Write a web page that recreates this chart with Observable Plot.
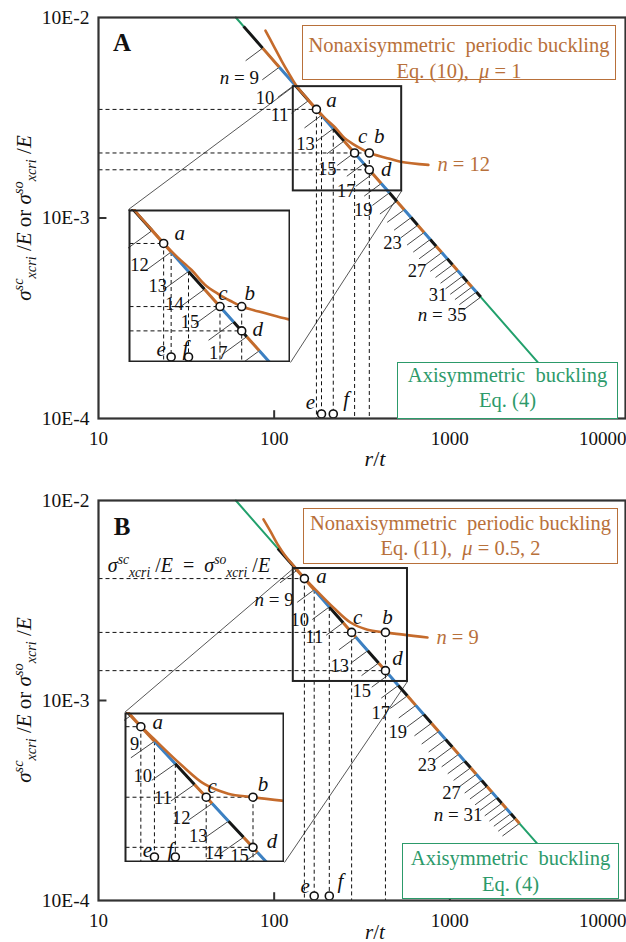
<!DOCTYPE html>
<html><head><meta charset="utf-8">
<script src="https://cdn.jsdelivr.net/npm/d3@7"></script>
<script src="https://cdn.jsdelivr.net/npm/@observablehq/plot@0.6"></script>
<style>
body{margin:0;background:#fff;font-family:"Liberation Serif","Times New Roman",serif;color:#111;}
#root{position:relative;width:626px;height:942px;overflow:hidden;}
.panel{position:relative;width:626px;height:471px;}
.ctr{position:absolute;transform:translate(-50%,-50%);white-space:nowrap;}
.box{position:absolute;box-sizing:border-box;text-align:center;font-size:20.5px;background:#fff;white-space:nowrap;}
.ytitle{position:absolute;transform:translate(-50%,-50%) rotate(-90deg);white-space:nowrap;font-size:21px;}
sup,sub{font-size:68%;line-height:0;}
.inset{position:absolute;overflow:hidden;background:#fff;}
svg text{font-family:"Liberation Serif","Times New Roman",serif !important;}
</style></head><body><div id="root"></div>
<script>
// ---------- data ----------
const K = 0.605;                       // axisymmetric line: sigma/E = K * t/r (Eq. 4)
const xTicks = [10, 100, 1000, 10000];
const xTickLabels = ["10", "100", "1000", "10000"];
const yTicks = [1e-2, 1e-3, 1e-4];
const yTickLabels = ["10E-2", "10E-3", "10E-4"];
const innerTicksX = [100, 1000];
const innerTicksY = [1e-3];

// Panel A
const axisLineA = [{x: 60.5, y: 1.0e-2}, {x: 3200, y: 1.89e-4}];
const boundariesA = [67, 86, 107, 131, 157, 186, 217, 250, 286, 324, 364, 407, 453, 500, 550, 602, 657, 714, 774, 836, 900, 967, 1036, 1107, 1181, 1257, 1336, 1416, 1500];
const firstModeA = 8;
const orangeA = [
  {x: 89.2, y: 8.61e-3}, {x: 99.1, y: 7.24e-3}, {x: 110, y: 6.10e-3}, {x: 120.5, y: 5.31e-3},
  {x: 133.9, y: 4.56e-3}, {x: 150.7, y: 4.03e-3}, {x: 174, y: 3.49e-3}, {x: 196, y: 3.13e-3},
  {x: 223, y: 2.82e-3}, {x: 251, y: 2.51e-3}, {x: 283, y: 2.33e-3}, {x: 314, y: 2.21e-3},
  {x: 348, y: 2.11e-3}, {x: 430, y: 2.0e-3}, {x: 524, y: 1.91e-3}, {x: 755, y: 1.84e-3}];
const pointsA = [{id: "a", x: 174, y: 3.48e-3}, {id: "b", x: 348, y: 2.11e-3}, {id: "c", x: 287, y: 2.11e-3}, {id: "d", x: 348, y: 1.74e-3}];
const efA = [{id: "e", x: 186}, {id: "f", x: 217}];
const mainLabelsA = [9, 10, 11, 13, 15, 17, 19, 23, 27, 31, 35];
const prefixedA = [9, 35];
const insetLabelsA = [12, 13, 14, 15, 17];
const zoomA = {x1: 128.5, x2: 532, y1: 1.365e-3, y2: 4.52e-3};
const orangeLabelA = "n = 12";

// Panel B
const axisLineB = [{x: 60.5, y: 1.0e-2}, {x: 3200, y: 1.89e-4}];
const boundariesB = [105, 135, 169, 206, 247, 292, 341, 393, 449, 509, 573, 640, 711, 786, 864, 947, 1033, 1123, 1216, 1313, 1414, 1519, 1627, 1740, 1856, 1975, 2099, 2226, 2357, 2491];
const firstModeB = 8;
const orangeB = [
  {x: 86.9, y: 8.04e-3}, {x: 95.3, y: 7.0e-3}, {x: 104.4, y: 6.05e-3}, {x: 115.9, y: 5.28e-3},
  {x: 127, y: 4.80e-3}, {x: 148.6, y: 4.09e-3}, {x: 167.5, y: 3.67e-3}, {x: 217, y: 2.92e-3},
  {x: 272, y: 2.455e-3}, {x: 340, y: 2.26e-3}, {x: 430, y: 2.19e-3}, {x: 746, y: 2.065e-3}];
const pointsB = [{id: "a", x: 148.6, y: 4.07e-3}, {id: "b", x: 430, y: 2.19e-3}, {id: "c", x: 276, y: 2.19e-3}, {id: "d", x: 430, y: 1.41e-3}];
const efB = [{id: "e", x: 169}, {id: "f", x: 206}];
const mainLabelsB = [9, 10, 11, 13, 15, 17, 19, 23, 27, 31];
const prefixedB = [9, 31];
const insetLabelsB = [9, 10, 11, 12, 13, 14, 15];
const zoomB = {x1: 128.5, x2: 574, y1: 1.245e-3, y2: 4.57e-3};
const orangeLabelB = "n = 9";

// ---------- styles ----------
const SERIF = '"Liberation Serif","Times New Roman",serif';
const SEG_COLORS = ["#161616", "#c56b2c", "#3d80c3"];
const ORANGE = "#c56b2c", ORANGE_TXT = "#b8703a", GREEN = "#22a06c", GREEN_TXT = "#2c9a6a";
const HATCH_X = 0.80, HATCH_Y = 0.865;

const panels = [
  {key: "A", axis: axisLineA, bounds: boundariesA, first: firstModeA, orange: orangeA, points: pointsA, ef: efA,
   mainLabels: mainLabelsA, prefixed: prefixedA, insetLabels: insetLabelsA, zoom: zoomA, orangeLabel: orangeLabelA,
   mt: 17, mb: 53, inset: {left: 128, top: 209, w: 162, h: 153},
   off: {a: [15, -9], b: [10, -17], c: [8, -17], d: [17, -1], e: [-11, -12], f: [13, -15]},
   offIn: {a: [16, -10], b: [8, -13], c: [3, -13], d: [16, -2], e: [-10, -8], f: [-3, -9]},
   nudgeIn: {}},
  {key: "B", axis: axisLineB, bounds: boundariesB, first: firstModeB, orange: orangeB, points: pointsB, ef: efB,
   mainLabels: mainLabelsB, prefixed: prefixedB, insetLabels: insetLabelsB, zoom: zoomB, orangeLabel: orangeLabelB,
   mt: 29, mb: 42, inset: {left: 124, top: 241, w: 160, h: 150},
   off: {a: [17, -2], b: [2, -15], c: [6, -15], d: [12, -12], e: [-9, -10], f: [11, -15]},
   offIn: {a: [17, -4], b: [10, -13], c: [6, -11], d: [19, -6], e: [-7, -7], f: [-5, -7]},
   nudgeIn: {9: [-8, 16], 15: [-11, 11]}}
];

function segs(P) {
  const out = [];
  for (let i = 0; i < P.bounds.length - 1; i++) {
    out.push({n: P.first + i, x1: P.bounds[i], x2: P.bounds[i + 1], y1: K / P.bounds[i], y2: K / P.bounds[i + 1], color: SEG_COLORS[i % 3]});
  }
  return out;
}
function modeLabels(P, inset) {
  const list = inset ? P.insetLabels : P.mainLabels;
  return list.map(n => {
    const i = n - P.first;
    const x = Math.sqrt(P.bounds[i] * P.bounds[i + 1]);
    const pre = !inset && P.prefixed.includes(n);
    return {n, x, y: K / x, text: pre ? "n = " + n : String(n), pre};
  });
}

function coreMarks(P, inset) {
  const xL = inset ? P.zoom.x1 : 10;
  const yB = inset ? P.zoom.y1 : 1e-4;
  const pt = Object.fromEntries(P.points.map(p => [p.id, p]));
  const hLines = [pt.a, pt.b, pt.d].map(p => ({x1: xL, x2: p.x, y: p.y}));
  const vLines = [pt.a, pt.c, pt.b].map(p => ({x: p.x, y1: p.y, y2: yB}))
    .concat(P.ef.map(e => ({x: e.x, y1: K / e.x, y2: yB})));
  const hatches = P.bounds.slice(1).map(b => ({x: b, y: K / b}));
  const S = segs(P);
  const labs = modeLabels(P, inset);
  const off = inset ? P.offIn : P.off;
  const ldx = -22, ldy = inset ? 24 : 22;
  const nudge = inset ? P.nudgeIn : {};
  const plain = labs.filter(d => !d.pre && !nudge[d.n]);
  const marks = [
    Plot.link(hLines, {x1: "x1", x2: "x2", y1: "y", y2: "y", stroke: "#111", strokeWidth: 1, strokeDasharray: "4,3"}),
    Plot.link(vLines, {x1: "x", x2: "x", y1: "y1", y2: "y2", stroke: "#111", strokeWidth: 1, strokeDasharray: "4,3"}),
    Plot.link(hatches, {x1: "x", y1: "y", x2: d => d.x * HATCH_X, y2: d => d.y * HATCH_Y, stroke: "#333", strokeWidth: 0.9}),
    Plot.line(P.axis, {x: "x", y: "y", stroke: GREEN, strokeWidth: 2}),
    Plot.link(S, {x1: "x1", y1: "y1", x2: "x2", y2: "y2", stroke: "color", strokeWidth: 3}),
    Plot.line(P.orange, {x: "x", y: "y", stroke: ORANGE, strokeWidth: 2.6, curve: "catmull-rom"}),
    Plot.dot(P.points, {x: "x", y: "y", r: 4, fill: "white", stroke: "#111", strokeWidth: 1.6}),
    Plot.dot(P.ef, {x: "x", y: () => yB, dy: -4.5, r: 4, fill: "white", stroke: "#111", strokeWidth: 1.6}),
    Plot.text(plain, {x: "x", y: "y", text: "text", dx: ldx, dy: ldy, fontSize: 18.5, fill: "#111"}),
    Plot.text(labs.filter(d => d.pre), {x: "x", y: "y", text: "text", dx: -12, dy: 20, textAnchor: "end", fontSize: 19, fill: "#111"})
  ];
  for (const d of labs.filter(d => nudge[d.n])) {
    marks.push(Plot.text([d], {x: "x", y: "y", text: "text", dx: nudge[d.n][0], dy: nudge[d.n][1], fontSize: 18.5, fill: "#111"}));
  }
  for (const p of P.points.concat(P.ef.map(e => ({id: e.id, x: e.x, y: yB, bottom: true})))) {
    const [dx, dy] = off[p.id];
    marks.push(Plot.text([p], {x: "x", y: "y", text: "id", dx, dy: dy + (p.bottom ? -4 : 0), fontSize: 21, fontStyle: "italic", fill: "#111"}));
  }
  return marks;
}

function finishText(svg) {
  svg.querySelectorAll("text").forEach(t => {
    t.style.fontFamily = SERIF;
    if (t.childElementCount === 0 && /^n = /.test(t.textContent)) {
      const rest = t.textContent.slice(1);
      t.textContent = "";
      const ts = document.createElementNS("http://www.w3.org/2000/svg", "tspan");
      ts.setAttribute("font-style", "italic");
      ts.textContent = "n";
      t.appendChild(ts);
      t.appendChild(document.createTextNode(rest));
    }
  });
}

const root = document.getElementById("root");
const W = 626, H = 471, ML = 98, MR = 1;

for (const P of panels) {
  const panel = document.createElement("div");
  panel.className = "panel";
  root.appendChild(panel);
  const innerH = H - P.mt - P.mb, innerW = W - ML - MR;
  const invX = px => Math.pow(10, 1 + 3 * (px - ML) / innerW);
  const invY = py => Math.pow(10, -2 - 2 * (py - P.mt) / innerH);
  const I = P.inset;
  const connectors = [
    {x1: P.zoom.x1, y1: P.zoom.y2, x2: invX(I.left), y2: invY(I.top)},
    {x1: P.zoom.x2, y1: P.zoom.y1, x2: invX(I.left + I.w), y2: invY(I.top + I.h)}
  ];
  const last = P.orange[P.orange.length - 1];
  const nT = xTicks.length;
  const main = Plot.plot({
    width: W, height: H, marginLeft: ML, marginRight: MR, marginTop: P.mt, marginBottom: P.mb,
    x: {type: "log", domain: [10, 10000], axis: null},
    y: {type: "log", domain: [1e-4, 1e-2], axis: null},
    color: {type: "identity"},
    style: {fontFamily: SERIF, background: "transparent", overflow: "visible"},
    marks: [
      Plot.link(connectors, {x1: "x1", y1: "y1", x2: "x2", y2: "y2", stroke: "#444", strokeWidth: 0.9}),
      ...coreMarks(P, false),
      Plot.text([last], {x: "x", y: "y", text: () => P.orangeLabel, dx: 9, textAnchor: "start", fontSize: 20.5, fill: ORANGE_TXT}),
      Plot.rect([P.zoom], {x1: "x1", x2: "x2", y1: "y1", y2: "y2", fill: "none", stroke: "#222", strokeWidth: 2}),
      Plot.link(innerTicksX, {x1: d => d, x2: d => d, y1: () => 1e-4, y2: () => 1e-4 * 1.1, stroke: "#333", strokeWidth: 2}),
      Plot.link(innerTicksY, {x1: () => 10, x2: () => 10 * 1.11, y1: d => d, y2: d => d, stroke: "#333", strokeWidth: 2}),
      Plot.text(xTicks.slice(0, nT - 1), {x: d => d, y: () => 1e-4, text: (d, i) => xTickLabels[i], dy: 20, fontSize: 19, fill: "#111"}),
      Plot.text(xTicks.slice(nT - 1), {x: d => d, y: () => 1e-4, text: () => xTickLabels[nT - 1], dy: 20, dx: 1, textAnchor: "end", fontSize: 19, fill: "#111"}),
      Plot.text(yTicks, {x: () => 10, y: d => d, text: (d, i) => yTickLabels[i], dx: -9, textAnchor: "end", fontSize: 19.5, fill: "#111"}),
      Plot.frame({stroke: "#333", strokeWidth: 2.2})
    ]
  });
  finishText(main);
  panel.appendChild(main);

  const insetDiv = document.createElement("div");
  insetDiv.className = "inset";
  Object.assign(insetDiv.style, {left: I.left + "px", top: I.top + "px", width: I.w + "px", height: I.h + "px"});
  const inset = Plot.plot({
    width: I.w, height: I.h, marginLeft: 1, marginRight: 1, marginTop: 1, marginBottom: 1,
    x: {type: "log", domain: [P.zoom.x1, P.zoom.x2], axis: null},
    y: {type: "log", domain: [P.zoom.y1, P.zoom.y2], axis: null},
    color: {type: "identity"},
    style: {fontFamily: SERIF, background: "white", overflow: "hidden", display: "block"},
    marks: [...coreMarks(P, true), Plot.frame({stroke: "#222", strokeWidth: 2})]
  });
  finishText(inset);
  insetDiv.appendChild(inset);
  panel.appendChild(insetDiv);

  const html = (cls, style, content) => {
    const d = document.createElement("div");
    d.className = cls;
    Object.assign(d.style, style);
    d.innerHTML = content;
    panel.appendChild(d);
    return d;
  };
  const ytitle = '<i>σ</i><sup><i>sc</i></sup><sub><i>xcri</i></sub> /<i>E</i> or <i>σ</i><sup><i>so</i></sup><sub><i>xcri</i></sub> /<i>E</i>';
  if (P.key === "A") {
    html("ctr", {left: "122px", top: "43px", fontSize: "25px", fontWeight: "bold"}, "A");
    html("box", {left: "302px", top: "25px", width: "314px", height: "55px", border: "1.5px solid " + ORANGE_TXT, color: ORANGE_TXT, lineHeight: "26px", paddingTop: "6px"},
      "Nonaxisymmetric&nbsp; periodic buckling<br>Eq. (10),&nbsp; <i>μ</i> = 1");
    html("box", {left: "397px", top: "362px", width: "221px", height: "57px", border: "1.5px solid " + GREEN_TXT, color: GREEN_TXT, lineHeight: "25px", paddingTop: "0px"},
      "Axisymmetric&nbsp; buckling<br>Eq. (4)");
    html("ytitle", {left: "24px", top: "218px"}, ytitle);
    html("ctr", {left: "375px", top: "459px", fontSize: "22px"}, "<i>r</i>/<i>t</i>");
  } else {
    html("ctr", {left: "122px", top: "56px", fontSize: "25px", fontWeight: "bold"}, "B");
    html("box", {left: "303px", top: "37px", width: "315px", height: "56px", border: "1.5px solid " + ORANGE_TXT, color: ORANGE_TXT, lineHeight: "25px", paddingTop: "2px"},
      "Nonaxisymmetric&nbsp; periodic buckling<br>Eq. (11),&nbsp; <i>μ</i> = 0.5, 2");
    html("box", {left: "402px", top: "372px", width: "217px", height: "56px", border: "1.5px solid " + GREEN_TXT, color: GREEN_TXT, lineHeight: "26px", paddingTop: "1px"},
      "Axisymmetric&nbsp; buckling<br>Eq. (4)");
    html("ctr", {left: "189px", top: "94px", fontSize: "20px"},
      '<i>σ</i><sup><i>sc</i></sup><sub><i>xcri</i></sub> /<i>E</i>&nbsp; =&nbsp; <i>σ</i><sup><i>so</i></sup><sub><i>xcri</i></sub> /<i>E</i>');
    html("ytitle", {left: "24px", top: "229px"}, ytitle);
    html("ctr", {left: "375px", top: "461px", fontSize: "21px"}, "<i>r</i>/<i>t</i>");
  }
}
</script>
</body></html>
